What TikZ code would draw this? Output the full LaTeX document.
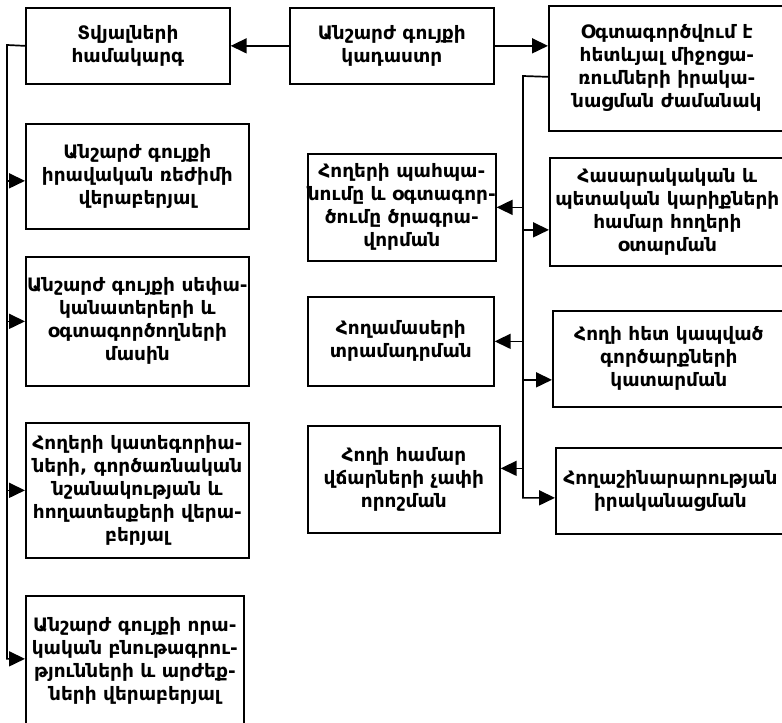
\documentclass[tikz,border=0pt]{standalone}
\usepackage{fontspec}
\newfontfamily\armfont{DejaVu Sans}
\usetikzlibrary{arrows.meta}
\begin{document}
\begin{tikzpicture}[x=1pt,y=-1pt]
\tikzset{
  box/.style={draw, line width=1.7pt, align=center, inner sep=0pt, anchor=north west,
    font=\armfont\bfseries\fontsize{18.5}{23}\selectfont},
  ln/.style={line width=1.7pt},
  arr/.style={line width=1.7pt, -{Triangle[length=16pt,width=15pt]}},
}
\useasboundingbox (0,0) rectangle (782,723);
\begin{scope}
\clip (0,0) rectangle (782,723);
% top row
\node[box, minimum width=204pt, minimum height=76pt] (A) at (25,7) {Տվյալների\\համակարգ};
\node[box, minimum width=204pt, minimum height=76pt] (B) at (289,7) {Անշարժ գույքի\\կադաստր};
\node[box, minimum width=236pt, minimum height=125pt] (C) at (548,5) {Օգտագործվում է\\հետևյալ միջոցա-\\ռումների իրակա-\\նացման ժամանակ};
% left column
\node[box, minimum width=223pt, minimum height=105pt] (L1) at (25,123) {Անշարժ գույքի\\իրավական ռեժիմի\\վերաբերյալ};
\node[box, minimum width=223pt, minimum height=129pt] (L2) at (25,256) {Անշարժ գույքի սեփա-\\կանատերերի և\\օգտագործողների\\մասին};
\node[box, minimum width=223pt, minimum height=135pt] (L3) at (25,422) {Հողերի կատեգորիա-\\ների, գործառնական\\նշանակության և\\հողատեսքերի վերա-\\բերյալ};
\node[box, minimum width=218pt, minimum height=131pt] (L4) at (25,595) {Անշարժ գույքի որա-\\կական բնութագրու-\\թյունների և արժեք-\\ների վերաբերյալ};
% middle column
\node[box, minimum width=186pt, minimum height=107pt] (M1) at (307,153) {Հողերի պահպա-\\նումը և օգտագոր-\\ծումը ծրագրա-\\վորման};
\node[box, minimum width=186pt, minimum height=89pt] (M2) at (307,296) {Հողամասերի\\տրամադրման};
\node[box, minimum width=192pt, minimum height=107pt] (M3) at (307,425) {Հողի համար\\վճարների չափի\\որոշման};
% right column
\node[box, minimum width=235pt, minimum height=108pt] (R1) at (549,157) {Հասարակական և\\պետական կարիքների\\համար հողերի\\օտարման};
\node[box, minimum width=232pt, minimum height=96pt] (R2) at (552,310) {Հողի հետ կապված\\գործարքների\\կատարման};
\node[box, minimum width=229pt, minimum height=86pt] (R3) at (555,447) {Հողաշինարարության\\իրականացման};
% connectors top
\draw[arr] (B.west) -- (A.east);
\draw[arr] (B.east) -- (B.east -| C.west);
% left trunk
\coordinate (lt) at (7,45);
\coordinate (l1a) at ([yshift=-4.5pt]L1.west);
\coordinate (l4a) at ([yshift=2.5pt]L4.west);
\draw[arr] (A.west) -- (lt) |- (l4a);
\draw[arr] (lt |- l1a) -- (l1a);
\draw[arr] (lt |- L2.west) -- (L2.west);
\draw[arr] (lt |- L3.west) -- (L3.west);
% right trunk
\coordinate (cs) at ([yshift=-8.5pt]C.west);
\coordinate (rt) at (523,76);
\coordinate (r3a) at ([yshift=-7pt]R3.west);
\draw[arr] (cs) -- (rt) |- (r3a);
\coordinate (m3a) at ([yshift=11pt]M3.east);
\coordinate (r1a) at ([yshift=-18pt]R1.west);
\coordinate (r2a) at ([yshift=-21pt]R2.west);
\draw[arr] (rt |- M1.east) -- (M1.east);
\draw[arr] (rt |- M2.east) -- (M2.east);
\draw[arr] (rt |- m3a) -- (m3a);
\draw[arr] (rt |- r1a) -- (r1a);
\draw[arr] (rt |- r2a) -- (r2a);
\end{scope}
\end{tikzpicture}
\end{document}
